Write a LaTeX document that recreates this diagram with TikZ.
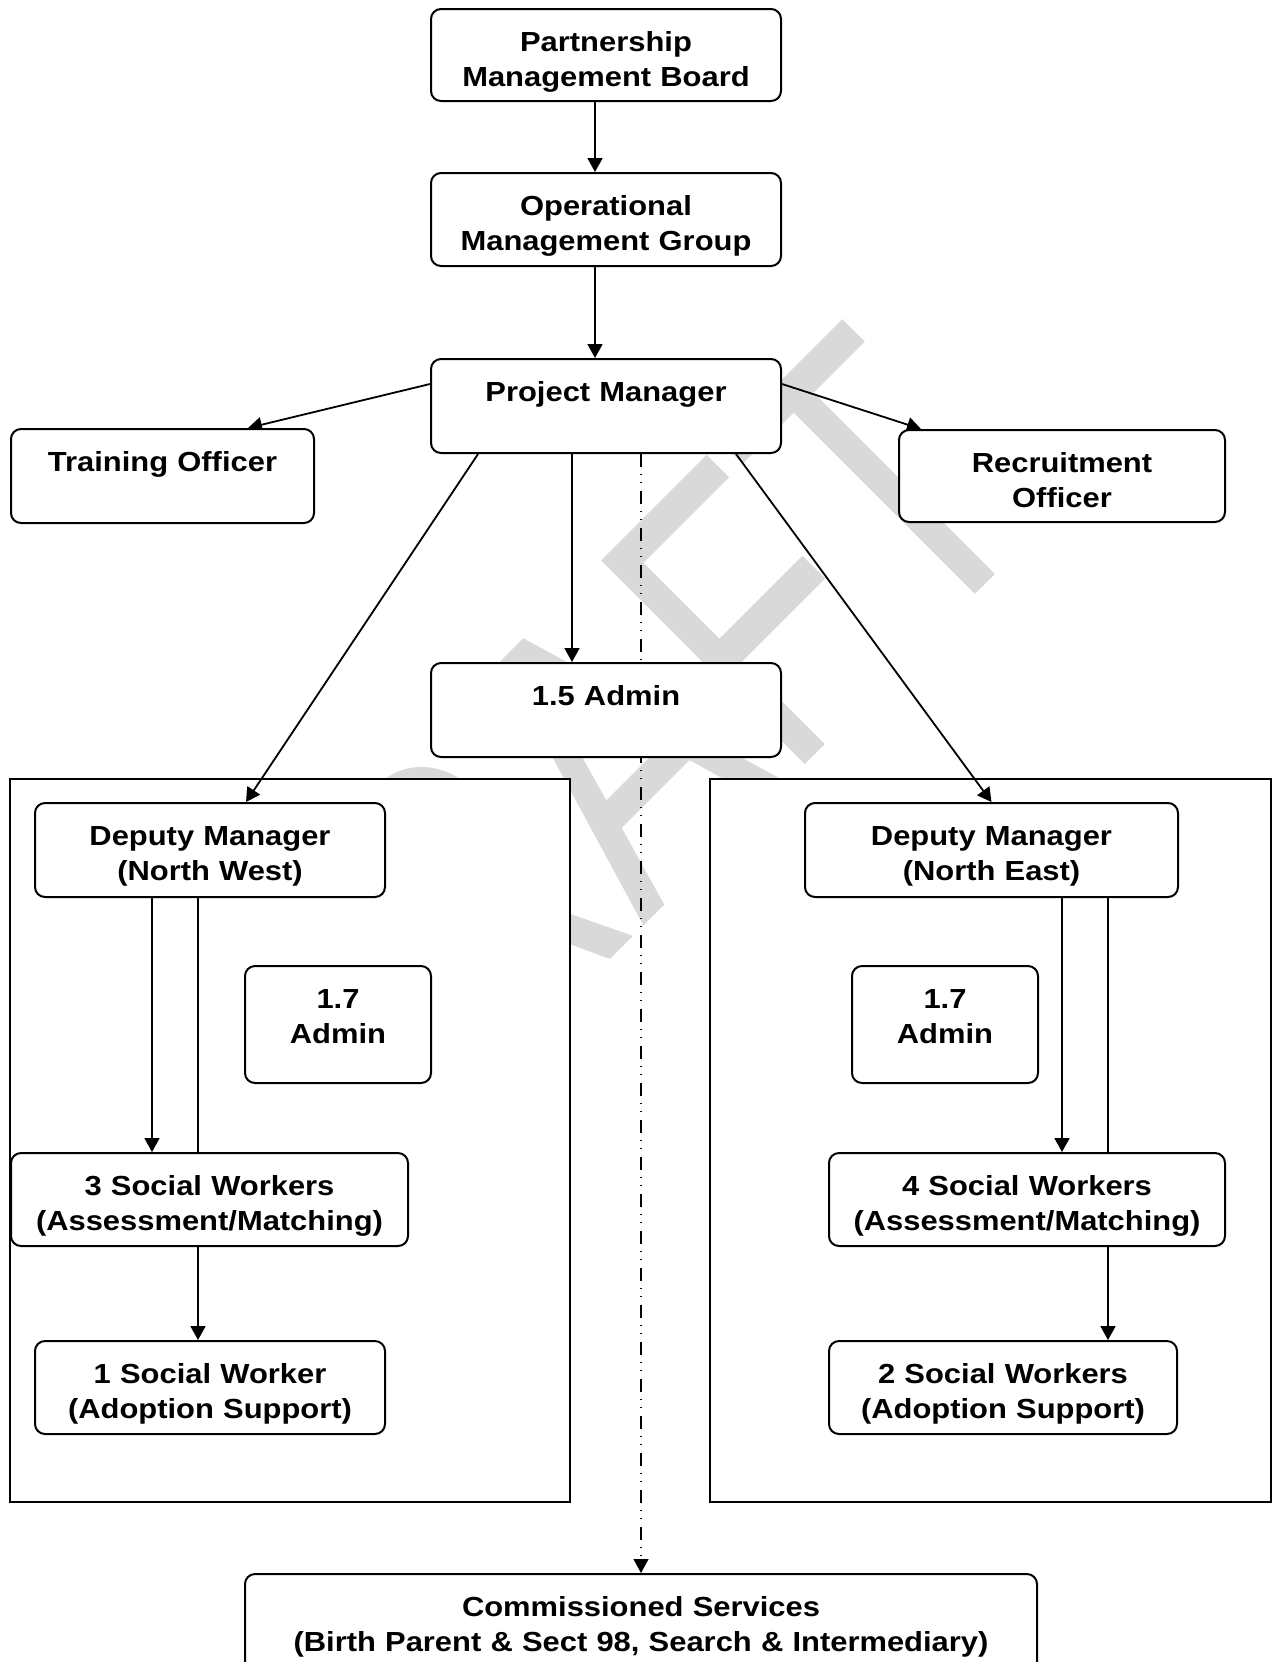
\documentclass[tikz,border=0pt]{standalone}
\usepackage{fontspec}
\setmainfont{Liberation Sans}[FakeStretch=1.12]
\newfontfamily\draftfont{Liberation Sans}[FakeStretch=0.73]
\usetikzlibrary{arrows.meta}

\pgfdeclarelayer{wm}
\pgfdeclarelayer{frames}
\pgfdeclarelayer{links}
\pgfsetlayers{wm,frames,links,main}

\tikzset{
  box/.style 2 args={draw, fill=white, line width=1pt, rounded corners=5pt,
    anchor=north west, inner xsep=0pt, inner ysep=0pt, align=center,
    font=\bfseries\fontsize{13.8}{17.5}\selectfont,
    text width=#1, text height=21pt, text depth=#2},
  area/.style={draw, fill=white, line width=1pt},
  link/.style={line width=0.9pt, -{Triangle[length=7pt,width=7.5pt]}},
  svc/.style={line width=0.6pt, dash pattern=on 6.5pt off 3.5pt on 0.6pt off 3.5pt on 0.6pt off 3.8pt,
    -{Triangle[length=7pt,width=7.5pt]}},
  draftmark/.style={text=black!15, inner sep=0pt, anchor=base west, rotate=45,
    font=\draftfont\fontsize{209.5pt}{210pt}\selectfont}
}

\begin{document}
\begin{tikzpicture}[x=0.5pt, y=-0.5pt]
\useasboundingbox (0,0) rectangle (1277,1662);

% Watermark
\begin{pgfonlayer}{wm}
\node[draftmark] (draft) at (331,1239) {DRAFT};
\end{pgfonlayer}

% Team areas
\begin{pgfonlayer}{frames}
\draw[area] (10,779) rectangle (570,1502);
\draw[area] (710,779) rectangle (1271,1502);
\end{pgfonlayer}

% Management
\node[box={175pt}{25pt}] (pmb) at (430,8) {Partnership\\Management Board};
\node[box={175pt}{25.5pt}] (omg) at (430,172) {Operational\\Management Group};
\node[box={175pt}{26pt}] (pm) at (430,358) {Project Manager};
\node[box={151.5pt}{26pt}] (to) at (10,428) {Training Officer};
\node[box={163pt}{25pt}] (ro) at (898,429) {Recruitment\\Officer};
\node[box={175pt}{26pt}] (adm) at (430,662) {1.5 Admin};

% North West
\node[box={175pt}{26pt}] (dmnw) at (34,802) {Deputy Manager\\(North West)};
\node[box={93pt}{37.5pt}] (adnw) at (244,965) {1.7\\Admin};
\node[box={198.5pt}{25.5pt}] (swnw) at (10,1152) {3 Social Workers\\(Assessment/Matching)};
\node[box={175pt}{25.5pt}] (asnw) at (34,1340) {1 Social Worker\\(Adoption Support)};

% North East
\node[box={186.5pt}{26pt}] (dmne) at (804,802) {Deputy Manager\\(North East)};
\node[box={93pt}{37.5pt}] (adne) at (851,965) {1.7\\Admin};
\node[box={198pt}{25.5pt}] (swne) at (828,1152) {4 Social Workers\\(Assessment/Matching)};
\node[box={174pt}{25.5pt}] (asne) at (828,1340) {2 Social Workers\\(Adoption Support)};

% Commissioned
\node[box={396pt}{39pt}] (com) at (244,1573) {Commissioned Services\\(Birth Parent \& Sect 98, Search \& Intermediary)};

% Connectors
\begin{pgfonlayer}{links}
\draw[link] ([xshift=-5.5pt]pmb.south) -- ([xshift=-5.5pt]omg.north);
\draw[link] ([xshift=-5.5pt]omg.south) -- ([xshift=-5.5pt]pm.north);
\draw[link] ([yshift=11pt]pm.west) -- ([xshift=42.75pt]to.north);
\draw[link] ([yshift=11pt]pm.east) -- ([xshift=-70.5pt]ro.north);
\draw[link] ([xshift=-17pt]pm.south) -- ([xshift=-17pt]adm.north);
\draw[link] ([xshift=-64pt]pm.south) -- ([xshift=18pt]dmnw.north);
\draw[link] ([xshift=65pt]pm.south) -- (dmne.north);
\draw[svc] (com.north |- pm.south) -- (com.north);

\draw[link] ([xshift=-29pt]dmnw.south) -- ([xshift=-29pt]dmnw.south |- swnw.north);
\draw[link] ([xshift=-6pt]dmnw.south) -- ([xshift=-6pt]dmnw.south |- asnw.north);
\draw[link] ([xshift=35.25pt]dmne.south) -- ([xshift=35.25pt]dmne.south |- swne.north);
\draw[link] ([xshift=58.25pt]dmne.south) -- ([xshift=58.25pt]dmne.south |- asne.north);
\end{pgfonlayer}
\end{tikzpicture}
\end{document}
